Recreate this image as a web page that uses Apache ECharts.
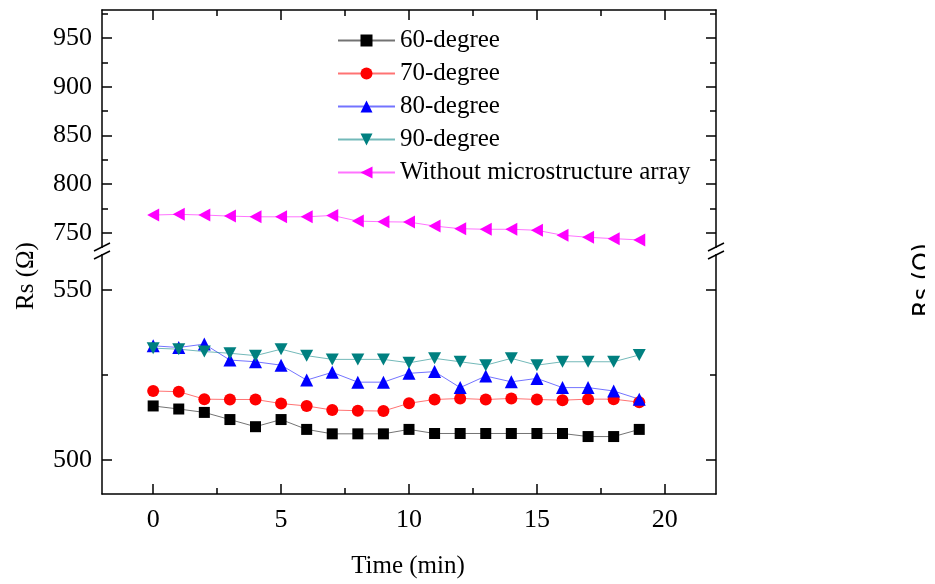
<!DOCTYPE html>
<html>
<head>
<meta charset="utf-8">
<script src="https://cdn.jsdelivr.net/npm/echarts@6/dist/echarts.min.js"></script>
<style>
  html, body { margin: 0; padding: 0; background: #fff; }
  #main { width: 935px; height: 584px; }
</style>
</head>
<body>
<div id="main"></div>
<script>
// time axis (min)
var times = [0, 1, 2, 3, 4, 5, 6, 7, 8, 9, 10, 11, 12, 13, 14, 15, 16, 17, 18, 19];

// Rs values
var deg60 = [515.9, 515.0, 514.0, 511.9, 509.8, 511.9, 509.0, 507.7, 507.7, 507.7, 509.0, 507.8, 507.8, 507.8, 507.8, 507.8, 507.8, 506.9, 506.9, 509.0];
var deg70 = [520.3, 520.1, 517.9, 517.8, 517.8, 516.6, 515.9, 514.7, 514.5, 514.4, 516.7, 517.8, 518.1, 517.8, 518.1, 517.8, 517.6, 517.9, 517.9, 517.0];
var deg80 = [533.6, 533.1, 534.1, 529.4, 528.9, 527.9, 523.5, 525.8, 522.9, 522.9, 525.5, 526.0, 521.3, 524.7, 523.0, 524.0, 521.3, 521.3, 520.3, 517.9];
var deg90 = [532.9, 532.6, 531.9, 531.4, 530.7, 532.6, 530.7, 529.6, 529.6, 529.6, 528.6, 529.9, 528.9, 527.9, 529.9, 527.9, 528.9, 528.9, 528.9, 530.9];
var noArray = [768.4, 769.1, 768.4, 767.3, 766.6, 766.6, 766.6, 768.0, 762.2, 761.5, 761.2, 757.1, 754.4, 753.8, 753.8, 752.8, 747.7, 745.6, 744.2, 742.9];

// tick labels
var xTicks = [0, 5, 10, 15, 20];
var xMinor = [2.5, 7.5, 12.5, 17.5];
var upTicks = [750, 800, 850, 900, 950];
var upMinor = [775, 825, 875, 925, 975];
var lowTicks = [500, 550];
var lowMinor = [525];

var FONT = '"Liberation Serif", "Times New Roman", serif';
var L = 102, R = 716, TOP = 10, BOTTOM = 494;
var breakA = 248, breakB = 254;

function pairs(ys) {
  return times.map(function (t, i) { return [t, ys[i]]; });
}

// one axis: either major (long ticks, maybe labels) or minor (short ticks, no line)
function mkAxis(grid, pos, min, max, ticks, isMajor, labels) {
  return {
    type: 'value',
    gridIndex: grid,
    position: pos,
    min: min,
    max: max,
    axisLine: { show: isMajor, onZero: false, lineStyle: { color: '#000', width: 1.5 } },
    axisTick: { show: true, inside: true, length: isMajor ? 10 : 6, customValues: ticks,
      lineStyle: { color: '#000', width: 1.5 } },
    axisLabel: { show: !!labels, customValues: ticks, margin: 10, color: '#000',
      fontFamily: FONT, fontSize: 26 },
    splitLine: { show: false },
    minorTick: { show: false }
  };
}

var upMin = 734.6, upMax = 978.7;
var lowMin = 490, lowMax = 560.6;

var xAxes = [
  mkAxis(0, 'top', -2, 22, xTicks, true, false),
  mkAxis(0, 'top', -2, 22, xMinor, false, false),
  mkAxis(1, 'bottom', -2, 22, xTicks, true, true),
  mkAxis(1, 'bottom', -2, 22, xMinor, false, false)
];
xAxes[2].axisLabel.margin = 13;

var yAxes = [
  mkAxis(0, 'left', upMin, upMax, upTicks, true, true),
  mkAxis(0, 'left', upMin, upMax, upMinor, false, false),
  mkAxis(0, 'right', upMin, upMax, upTicks, true, false),
  mkAxis(0, 'right', upMin, upMax, upMinor, false, false),
  mkAxis(1, 'left', lowMin, lowMax, lowTicks, true, true),
  mkAxis(1, 'left', lowMin, lowMax, lowMinor, false, false),
  mkAxis(1, 'right', lowMin, lowMax, lowTicks, true, false),
  mkAxis(1, 'right', lowMin, lowMax, lowMinor, false, false)
];

function mkSeries(name, ys, color, symbol, size, upper) {
  return {
    name: name,
    type: 'line',
    xAxisIndex: upper ? 0 : 2,
    yAxisIndex: upper ? 0 : 4,
    data: pairs(ys),
    symbol: symbol,
    symbolSize: size,
    showSymbol: true,
    itemStyle: { color: color },
    lineStyle: { color: color, width: 1, opacity: 0.55 },
    emphasis: { disabled: true }
  };
}

// break marks on both vertical axes
var breakMarks = [];
[L, R].forEach(function (x) {
  breakMarks.push({ type: 'rect', shape: { x: x - 3, y: breakA, width: 6, height: breakB - breakA },
    style: { fill: '#fff' }, z: 50 });
  [breakA - 1, breakB + 1].forEach(function (y) {
    breakMarks.push({ type: 'line', shape: { x1: x - 8, y1: y + 4, x2: x + 8, y2: y - 4 },
      style: { stroke: '#000', lineWidth: 1.5 }, z: 51 });
  });
});

var chart = echarts.init(document.getElementById('main'), null, { renderer: 'canvas' });
chart.setOption({
  animation: false,
  backgroundColor: '#fff',
  grid: [
    { left: L, right: 935 - R, top: TOP, height: breakA - TOP, outerBoundsMode: 'none' },
    { left: L, right: 935 - R, top: breakB, height: BOTTOM - breakB, outerBoundsMode: 'none' }
  ],
  xAxis: xAxes,
  yAxis: yAxes,
  legend: {
    left: 337,
    top: 28,
    padding: 0,
    orient: 'vertical',
    itemWidth: 57,
    itemHeight: 15,
    itemGap: 8,
    textStyle: { fontFamily: FONT, fontSize: 25, lineHeight: 22, color: '#000' },
    data: ['60-degree', '70-degree', '80-degree', '90-degree', 'Without microstructure array']
  },
  series: [
    mkSeries('60-degree', deg60, '#000000', 'rect', 11, false),
    mkSeries('70-degree', deg70, '#ff0000', 'circle', 12, false),
    mkSeries('80-degree', deg80, '#0000ff', 'triangle', 13, false),
    mkSeries('90-degree', deg90, '#008080', 'path://M0,0L12,0L6,11Z', [13, 12], false),
    mkSeries('Without microstructure array', noArray, '#ff00ff', 'path://M11,0L11,12L0,6Z', [12, 13], true)
  ],
  graphic: breakMarks.concat([
    { type: 'text', x: 26, y: 276, rotation: Math.PI / 2,
      style: { text: 'Rs (\u03a9)', font: '25px ' + FONT, fill: '#000', align: 'center', verticalAlign: 'middle' } },
    { type: 'text', x: 408, y: 566,
      style: { text: 'Time (min)', font: '25px ' + FONT, fill: '#000', align: 'center', verticalAlign: 'middle' } },
    // edge of the neighbouring panel's axis title
    { type: 'text', x: 924, y: 280, rotation: Math.PI / 2,
      style: { text: 'Rs (\u03a9)', font: '24px "DejaVu Sans", sans-serif', fill: '#000', align: 'center', verticalAlign: 'middle' } },
    { type: 'rect', shape: { x: 925, y: 200, width: 10, height: 160 }, style: { fill: '#fff' }, z: 60 }
  ])
});
</script>
</body>
</html>
